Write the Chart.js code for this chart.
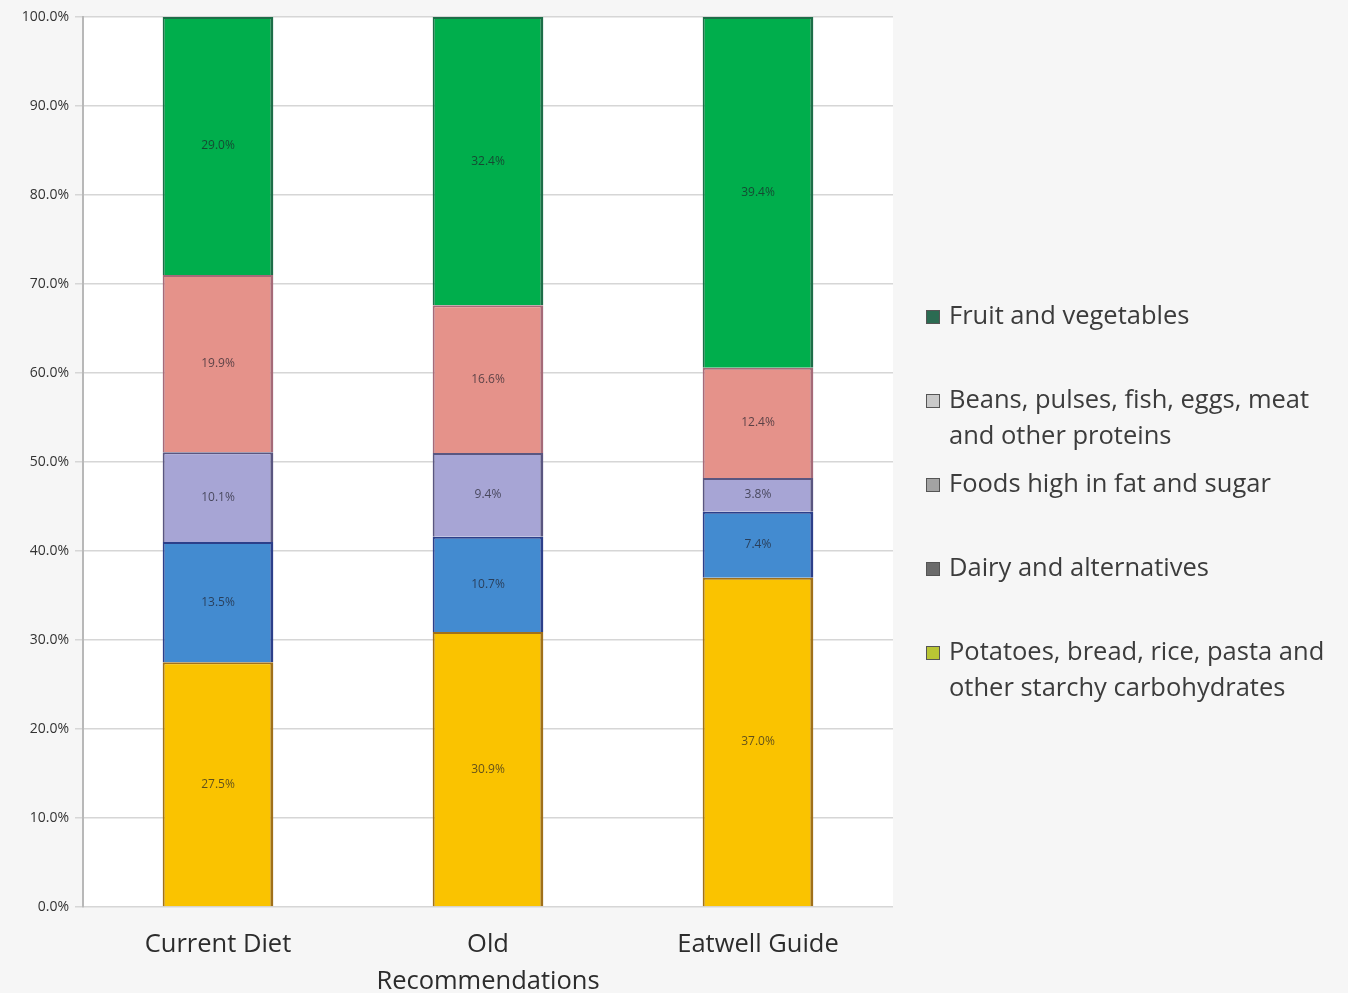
<!DOCTYPE html>
<html>
<head>
<meta charset="utf-8">
<script src="https://cdn.jsdelivr.net/npm/chart.js@4.4.1/dist/chart.umd.min.js"></script>
<style>
  html, body { margin: 0; padding: 0; background: #f6f6f6; }
  #wrap { width: 1348px; height: 993px; position: relative; }
</style>
</head>
<body>
<div id="wrap"><canvas id="c"></canvas></div>
<script>
// Share of the diet by food group (%), stacked bottom to top
const categories = ['Current Diet', ['Old', 'Recommendations'], 'Eatwell Guide'];
const starchyCarbs = [27.5, 30.9, 37.0];
const dairy = [13.5, 10.7, 7.4];
const fatAndSugar = [10.1, 9.4, 3.8];
const proteins = [19.9, 16.6, 12.4];
const fruitVeg = [29.0, 32.4, 39.4];
const yTicks = [0, 10, 20, 30, 40, 50, 60, 70, 80, 90, 100];

const seriesNames = [
  ['Potatoes, bread, rice, pasta and', 'other starchy carbohydrates'],
  ['Dairy and alternatives'],
  ['Foods high in fat and sugar'],
  ['Beans, pulses, fish, eggs, meat', 'and other proteins'],
  ['Fruit and vegetables']
];

const FONT = '"Open Sans", "DejaVu Sans", sans-serif';

function makeSet(name, data, fill, edge, swatch) {
  return {
    label: name.join(' '),
    lines: name,
    swatch: swatch,
    data: data,
    backgroundColor: fill,
    borderColor: edge,
    borderWidth: { left: 2, right: 3, top: 2, bottom: 0 },
    borderSkipped: false,
    categoryPercentage: 1.0,
    barPercentage: 0.41
  };
}

const datasets = [
  makeSet(seriesNames[0], starchyCarbs, '#fac300', '#a0701a', '#b9c534'),
  makeSet(seriesNames[1], dairy, '#438bd0', '#2c3f8a', '#6b6b6b'),
  makeSet(seriesNames[2], fatAndSugar, '#a7a5d5', '#5a5680', '#a3a3a3'),
  makeSet(seriesNames[3], proteins, '#e5928a', '#a56a78', '#c9c9c9'),
  makeSet(seriesNames[4], fruitVeg, '#00ae4c', '#1d6e48', '#2b6b52')
];

// Plot-area fill
const plotBackground = {
  id: 'plotBackground',
  beforeDraw(chart) {
    const { ctx, chartArea: a } = chart;
    ctx.save();
    ctx.fillStyle = '#ffffff';
    ctx.fillRect(a.left, a.top, a.right - a.left, a.bottom - a.top);
    ctx.restore();
  }
};

// Value labels centred in each segment
const segmentLabels = {
  id: 'segmentLabels',
  afterDatasetsDraw(chart) {
    const ctx = chart.ctx;
    ctx.save();
    ctx.font = '12px ' + FONT;
    ctx.textAlign = 'center';
    ctx.textBaseline = 'middle';
    ctx.fillStyle = 'rgba(30,30,40,0.7)';
    chart.data.datasets.forEach((ds, i) => {
      chart.getDatasetMeta(i).data.forEach((bar, j) => {
        const v = ds.data[j];
        ctx.fillText(v.toFixed(1) + '%', bar.x, (bar.y + bar.base) / 2);
      });
    });
    ctx.restore();
  }
};

// Legend at the right, top entry = top segment
const sideLegend = {
  id: 'sideLegend',
  afterDraw(chart) {
    const ctx = chart.ctx;
    const sets = chart.data.datasets.slice().reverse();
    const x0 = 926, textX = 949, startY = 317, step = 84, lineH = 36, box = 14;
    ctx.save();
    ctx.font = '25.5px ' + FONT;
    ctx.textBaseline = 'middle';
    ctx.textAlign = 'left';
    sets.forEach((ds, k) => {
      const y = startY + k * step;
      ctx.fillStyle = ds.swatch;
      ctx.fillRect(x0, y - box / 2, box, box);
      ctx.strokeStyle = '#555';
      ctx.lineWidth = 1;
      ctx.strokeRect(x0 + 0.5, y - box / 2 + 0.5, box - 1, box - 1);
      ctx.fillStyle = '#3c3c3c';
      ds.lines.forEach((t, li) => ctx.fillText(t, textX, y + li * lineH));
    });
    ctx.restore();
  }
};

new Chart(document.getElementById('c'), {
  type: 'bar',
  data: { labels: categories, datasets: datasets },
  options: {
    responsive: true,
    maintainAspectRatio: false,
    animation: false,
    layout: { padding: { top: 17, right: 455, bottom: 0, left: 0 } },
    plugins: {
      legend: { display: false },
      tooltip: { enabled: false }
    },
    scales: {
      x: {
        stacked: true,
        grid: { display: false, drawTicks: false },
        border: { display: false },
        ticks: {
          padding: 19,
          color: '#2c2c2c',
          font: { family: FONT, size: 25.5, lineHeight: 1.45 },
          maxRotation: 0,
          autoSkip: false
        },
        afterFit(scale) { scale.height = 86; }
      },
      y: {
        stacked: true,
        min: 0,
        max: 100,
        afterBuildTicks(scale) { scale.ticks = yTicks.map(v => ({ value: v })); },
        grid: { color: '#d6d6d6', lineWidth: 1.5, tickLength: 8 },
        border: { display: true, color: '#b8b8b8', width: 2 },
        ticks: {
          padding: 6,
          color: '#333333',
          font: { family: FONT, size: 14 },
          callback: v => v.toFixed(1) + '%'
        },
        afterFit(scale) { scale.width = 83; }
      }
    }
  },
  plugins: [plotBackground, segmentLabels, sideLegend]
});
</script>
</body>
</html>
